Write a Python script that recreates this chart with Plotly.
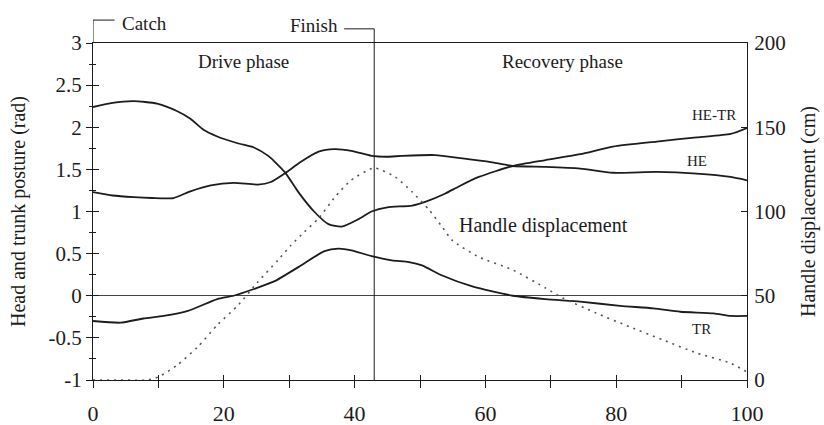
import plotly.graph_objects as go

# ---------------- data ----------------
he_tr_x = [0, 3, 6.2, 9.8, 12.9, 14.9, 16.9, 19, 22.1, 24.6, 26.8, 29.3, 31.4, 33.8, 36, 38, 40.6, 42.6,
           45, 48.8, 51, 53.8, 56, 59, 64.2, 69.2, 74.5, 79.5, 86.2, 92.3, 97.5, 100]
he_tr_y = [2.24, 2.29, 2.31, 2.28, 2.19, 2.10, 1.97, 1.89, 1.81, 1.76, 1.66, 1.47, 1.23, 1.00, 0.85, 0.82, 0.91, 1.00,
           1.05, 1.07, 1.12, 1.21, 1.30, 1.41, 1.54, 1.61, 1.68, 1.77, 1.83, 1.88, 1.92, 1.99]

he_x = [0, 3, 6.2, 9, 12.3, 14.9, 18, 21.5, 25.2, 27.2, 29.3, 31.8, 34.5, 36.9, 39.5, 42.6, 45, 47.2, 52.3,
        56.5, 60.6, 64.2, 69.2, 74.5, 79.5, 86.2, 92.3, 97.5, 100]
he_y = [1.23, 1.19, 1.17, 1.16, 1.16, 1.24, 1.31, 1.34, 1.32, 1.35, 1.45, 1.59, 1.71, 1.74, 1.72, 1.66, 1.65, 1.66, 1.67,
        1.63, 1.59, 1.54, 1.53, 1.51, 1.46, 1.47, 1.45, 1.41, 1.37]

tr_x = [0, 4.2, 7.7, 10.8, 14.5, 19, 21.5, 24.6, 27.7, 31.4, 35.4, 37.5, 39.5, 42.6, 45.7, 48.3, 50.3, 53.4, 58,
        64.2, 69.2, 74.5, 80.6, 85.7, 89.8, 94.9, 97.5, 100]
tr_y = [-0.30, -0.32, -0.27, -0.24, -0.18, -0.04, 0.00, 0.08, 0.17, 0.34, 0.53, 0.56, 0.54, 0.47, 0.42, 0.40, 0.36,
        0.24, 0.11, 0.00, -0.04, -0.07, -0.12, -0.15, -0.19, -0.21, -0.24, -0.24]

handle_x = [0, 4, 8.3, 10, 12.9, 16, 19, 22.2, 25.2, 28.3, 30.3, 32.3, 34.5, 37, 39.5, 43, 46.2, 48.8, 51.4, 53.4,
            54.9, 59, 64.2, 69.2, 71.8, 76.9, 82.1, 87.2, 92.3, 97.5, 100]
handle_y = [0, 0, 0, 1.8, 8.9, 19.6, 32.6, 44.5, 58.2, 71.2, 80.1, 87.8, 96, 108.6, 118.7, 125.8, 120.5, 111.6, 100.9,
            90.8, 83, 73, 65.3, 54.6, 48.7, 39.8, 31.5, 23.7, 16, 10, 4.7]

x_ticks = [0, 20, 40, 60, 80, 100]
left_ticks = [-1, -0.5, 0, 0.5, 1, 1.5, 2, 2.5, 3]
left_tick_text = ["-1", "-0.5", "0", "0.5", "1", "1.5", "2", "2.5", "3"]
right_ticks = [0, 50, 100, 150, 200]

CATCH_X = 0
FINISH_X = 43

# ---------------- figure ----------------
INK = "#1c1c1c"
FONT = "Liberation Serif"

fig = go.Figure()
line_style = dict(color=INK, width=1.8, shape="spline", smoothing=0.6)
fig.add_trace(go.Scatter(x=he_tr_x, y=he_tr_y, mode="lines", line=line_style, name="HE-TR"))
fig.add_trace(go.Scatter(x=he_x, y=he_y, mode="lines", line=line_style, name="HE"))
fig.add_trace(go.Scatter(x=tr_x, y=tr_y, mode="lines", line=line_style, name="TR"))
fig.add_trace(go.Scatter(x=handle_x, y=handle_y, mode="lines", yaxis="y2",
                         line=dict(color="#555555", width=1.6, dash="2px,5px", shape="spline", smoothing=0.6),
                         name="Handle displacement"))
# invisible trace to activate the overlay tick axes
fig.add_trace(go.Scatter(x=[0], y=[0], xaxis="x3", yaxis="y3", mode="markers",
                         marker=dict(opacity=0), hoverinfo="skip"))

xr = [0, 100]
yr = [-1, 3]

fig.update_layout(
    width=824, height=425,
    margin=dict(l=93, r=77, t=43, b=45, autoexpand=False),
    paper_bgcolor="white", plot_bgcolor="white",
    showlegend=False,
    font=dict(family=FONT, color=INK, size=20),
    xaxis=dict(range=xr, tickvals=x_ticks, ticks="outside", ticklen=7, tickwidth=1, tickcolor=INK,
               minor=dict(dtick=10, ticks="outside", ticklen=7, tickcolor=INK),
               showline=True, linecolor=INK, linewidth=1.2, mirror=True, automargin=False,
               showgrid=False, zeroline=False, tickfont=dict(size=22), ticklabelstandoff=6),
    yaxis=dict(range=yr, tickvals=left_ticks, ticktext=left_tick_text, ticks="outside", ticklen=6,
               tickcolor=INK, minor=dict(dtick=0.25, ticks="outside", ticklen=3, tickcolor=INK),
               showline=True, linecolor=INK, linewidth=1.2, showgrid=False, automargin=False,
               zeroline=True, zerolinecolor="#444444", zerolinewidth=1,
               tickfont=dict(size=21),
               title=dict(text="Head and trunk posture (rad)", font=dict(size=20), standoff=17)),
    yaxis2=dict(range=[0, 200], tickvals=right_ticks, overlaying="y", side="right", anchor="x",
                ticks="inside", ticklen=6, tickcolor=INK, showline=True, linecolor=INK, linewidth=1.2,
                showgrid=False, zeroline=False, tickfont=dict(size=21), ticklabelstandoff=2,
                automargin=False,
                title=dict(text="Handle displacement (cm)", font=dict(size=20), standoff=16)),
    xaxis3=dict(range=xr, overlaying="x", anchor="y3", side="bottom", tickvals=x_ticks, ticks="inside",
                ticklen=5, tickcolor=INK, minor=dict(dtick=10, ticks="inside", ticklen=5, tickcolor=INK),
                showticklabels=False, showline=False, showgrid=False, zeroline=False, automargin=False),
    yaxis3=dict(range=yr, overlaying="y", anchor="x3", side="left", tickvals=left_ticks, ticks="inside",
                ticklen=6, tickcolor=INK, minor=dict(dtick=0.25, ticks="inside", ticklen=3, tickcolor=INK),
                showticklabels=False, showline=False, showgrid=False, zeroline=False, automargin=False),
)

# Finish / Catch markers
fig.add_shape(type="line", x0=FINISH_X, x1=FINISH_X, xref="x", y0=0, y1=1.042, yref="paper",
              line=dict(color=INK, width=1))
fig.add_shape(type="line", x0=FINISH_X - 4.6, x1=FINISH_X, xref="x", y0=1.042, y1=1.042, yref="paper",
              line=dict(color=INK, width=1))
fig.add_shape(type="line", x0=CATCH_X, x1=CATCH_X, xref="x", y0=1.0, y1=1.068, yref="paper",
              line=dict(color=INK, width=1))
fig.add_shape(type="line", x0=CATCH_X, x1=CATCH_X + 3.3, xref="x", y0=1.068, y1=1.068, yref="paper",
              line=dict(color=INK, width=1))

def label(text, x, y, size, xanchor="center", yref="y"):
    fig.add_annotation(text=text, x=x, y=y, xref="x", yref=yref, showarrow=False,
                       xanchor=xanchor, yanchor="middle", font=dict(family=FONT, size=size, color=INK))

label("Catch", CATCH_X + 4.1, 1.059, 19, xanchor="left", yref="paper")
label("Finish", FINISH_X - 5.2, 1.053, 19, xanchor="right", yref="paper")
label("Drive phase", 23, 2.78, 19)
label("Recovery phase", 71.8, 2.78, 19)
label("HE-TR", 95, 2.15, 15)
label("HE", 92.3, 1.6, 15)
label("TR", 93, -0.39, 15)
label("Handle displacement", 55.7, 0.83, 20, xanchor="left")

fig.write_html("out.html", config={"displayModeBar": False},
               post_script="document.body.style.margin='0';document.body.style.overflow='hidden';")
